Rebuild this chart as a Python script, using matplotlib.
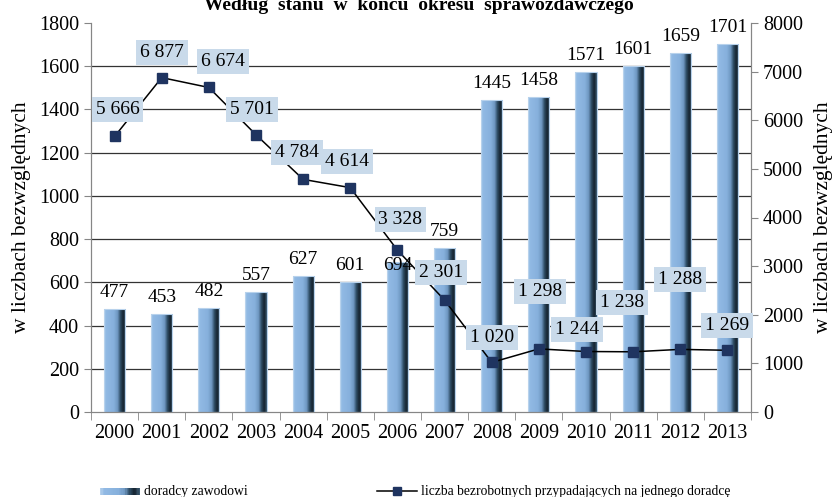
import numpy as np
import matplotlib.pyplot as plt
from matplotlib.colors import LinearSegmentedColormap
from matplotlib.lines import Line2D
from matplotlib.patches import Patch, Rectangle
from matplotlib.legend_handler import HandlerBase

plt.rcParams['font.family'] = ['Liberation Serif', 'DejaVu Serif']

years = ['2000', '2001', '2002', '2003', '2004', '2005', '2006',
         '2007', '2008', '2009', '2010', '2011', '2012', '2013']
doradcy = [477, 453, 482, 557, 627, 601, 694, 759, 1445, 1458, 1571, 1601, 1659, 1701]
bezrobotni = [5666, 6877, 6674, 5701, 4784, 4614, 3328, 2301, 1020, 1298, 1244, 1238, 1288, 1269]
bez_labels = ['5 666', '6 877', '6 674', '5 701', '4 784', '4 614', '3 328',
              '2 301', '1 020', '1 298', '1 244', '1 238', '1 288', '1 269']

# label offsets in pixels (dx, dy) for the line labels, as in the original
lab_off = [(3, 27), (0, 25), (14, 26), (-4, 25), (-6, 27), (-3, 26), (3, 31),
           (-4, 28), (0, 25), (1, 57), (-9, 22), (-11, 49), (0, 70), (0, 25)]

cmap = LinearSegmentedColormap.from_list('bar', [
    (0.0, '#b4d0ec'), (0.08, '#92bae4'), (0.45, '#86b0dc'), (0.62, '#6f98c2'),
    (0.75, '#2e4c64'), (0.88, '#15232f'), (1.0, '#3c5a72')])


class GradientHandler(HandlerBase):
    # legend key drawn as a horizontal gradient, like the bars
    def create_artists(self, legend, orig, xd, yd, width, height, fontsize, trans):
        n = 30
        h = height * 0.75
        out = []
        for k in range(n):
            r = Rectangle((xd + width * k / n, yd + (height - h) / 2), width / n + 0.3, h,
                          facecolor=cmap(k / (n - 1)), edgecolor='none', transform=trans)
            out.append(r)
        return out


fig = plt.figure(figsize=(8.37, 4.97), dpi=100)
ax = fig.add_axes([91/837, 85/497, 660/837, 389/497])
ax2 = ax.twinx()

x = np.arange(len(years))

# gradient bars
bars = ax.bar(x, doradcy, width=0.45, color='none', edgecolor='#b8d2ec',
              linewidth=0.8, zorder=3)
grad = np.linspace(0, 1, 256).reshape(1, -1)
for b in bars:
    x0 = b.get_x()
    im = ax.imshow(grad, cmap=cmap, aspect='auto', zorder=2,
                   extent=[x0, x0 + b.get_width(), 0, b.get_height()])
    im.set_clip_path(b)

for i, v in enumerate(doradcy):
    dy = -8 if years[i] == '2006' else 12
    ax.annotate(str(v), (x[i], v), xytext=(0, dy * 0.72), textcoords='offset points',
                ha='center', va='baseline', fontsize=14, zorder=4)

ax.set_xlim(-0.5, len(years) - 0.5)
ax.set_ylim(0, 1800)
ax.set_yticks(range(0, 1801, 200))
ax.set_xticks(x)
ax.set_xticklabels(years, fontsize=14.5)
ax.set_xticks(np.arange(-0.5, len(years), 1), minor=True)
ax.tick_params(axis='x', which='major', length=0, pad=9)
ax.tick_params(axis='x', which='minor', length=6, color='#868686', direction='out')
ax.tick_params(axis='y', labelsize=14.5, length=5, color='#868686', direction='out')
for y in range(200, 1800, 200):
    ax.axhline(y, color='#333333', linewidth=0.9, zorder=1)
ax.set_ylabel('w liczbach bezwzględnych', fontsize=15.5, labelpad=6)

for s in ['top']:
    ax.spines[s].set_visible(False)
    ax2.spines[s].set_visible(False)
for s in ['left', 'bottom', 'right']:
    ax.spines[s].set_color('#868686')
    ax2.spines[s].set_color('#868686')

# line on right axis
ax2.plot(x, bezrobotni, color='black', linewidth=1.1, marker='s', markersize=7.8,
         markerfacecolor='#1f3460', markeredgecolor='#1f3460', zorder=3)
for i, v in enumerate(bezrobotni):
    dx, dy = lab_off[i]
    ax2.annotate(bez_labels[i], (x[i], v), xytext=(dx * 0.72, dy * 0.72),
                 textcoords='offset points', ha='center', va='center', fontsize=14,
                 bbox=dict(boxstyle='square,pad=0.2', fc='#c9daea', ec='none'),
                 zorder=5)
ax2.set_ylim(0, 8000)
ax2.set_yticks(range(0, 8001, 1000))
ax2.tick_params(axis='y', labelsize=14.5, length=5, color='#868686', direction='out')
ax2.set_ylabel('w liczbach bezwzględnych', fontsize=15.5, labelpad=8)

fig.text(0.5, 1 - 10/497, 'Według  stanu  w  końcu  okresu  sprawozdawczego',
         ha='center', va='baseline', fontsize=14, fontweight='bold')

bar_key = Patch(facecolor='#8cb6e2')
line_key = Line2D([0], [0], color='black', linewidth=1.1, marker='s', markersize=6,
                  markerfacecolor='#1f3460', markeredgecolor='#1f3460')
fig.legend([bar_key, line_key],
           ['doradcy zawodowi', 'liczba bezrobotnych przypadających na jednego doradcę'],
           loc='center left', bbox_to_anchor=(100/837, 5/497), ncol=2, frameon=False,
           fontsize=9.8, handlelength=2.94, handletextpad=0.3, columnspacing=9.5,
           handleheight=0.6, borderpad=0, borderaxespad=0,
           handler_map={Patch: GradientHandler()})

plt.savefig('out.png', dpi=100)
